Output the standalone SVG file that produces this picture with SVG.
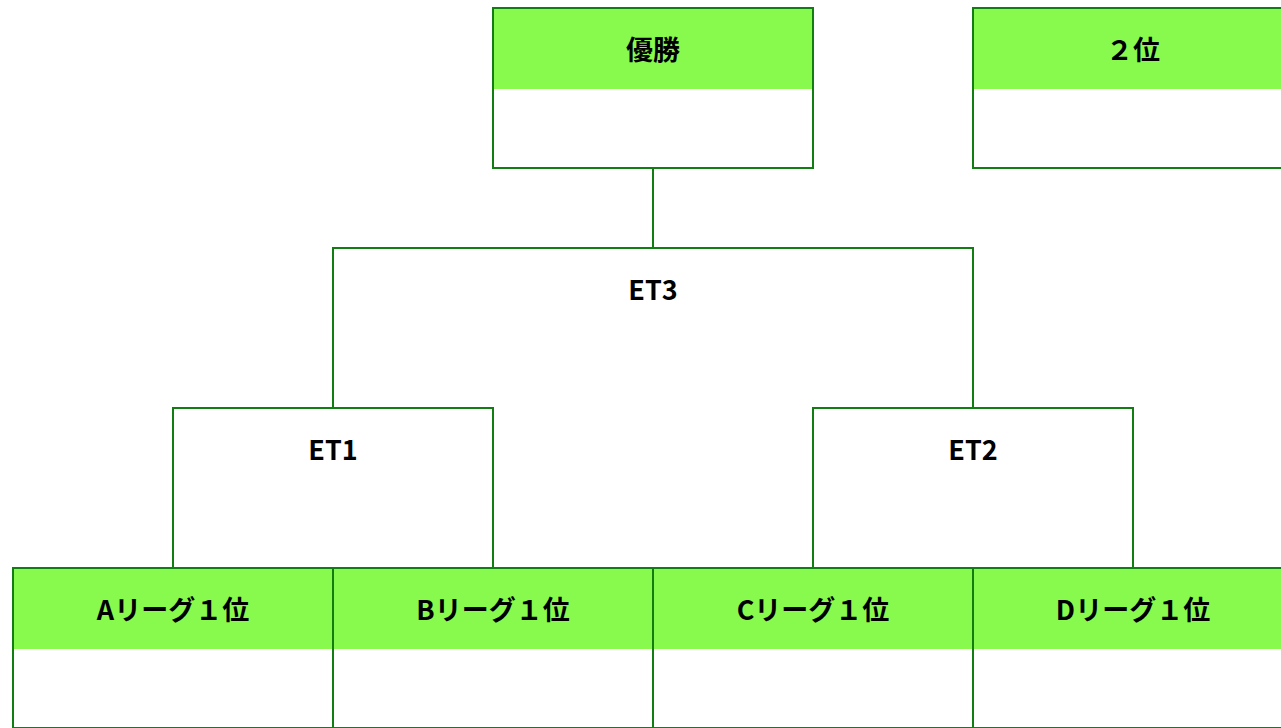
<svg xmlns="http://www.w3.org/2000/svg" width="1281" height="728" viewBox="0 0 1281 728">
<style>
.box{fill:#ffffff;stroke:#127d12;stroke-width:2}
.hd{fill:#88fa4e;stroke:none}
.ln{fill:none;stroke:#127d12;stroke-width:2}
text{font-family:"Noto Sans CJK JP","Noto Sans",sans-serif;font-weight:bold;font-size:27px;fill:#000;text-anchor:middle}
</style>
<rect x="0" y="0" width="1281" height="728" fill="#ffffff"/>
<g id="connectors">
<path class="ln" d="M653 168V248"/>
<path class="ln" d="M333 408V248H973V408"/>
<path class="ln" d="M173 568V408H493V568"/>
<path class="ln" d="M813 568V408H1133V568"/>
</g>
<g id="et3"><text x="653" y="300">ET3</text></g>
<g id="et1"><text x="333" y="460">ET1</text></g>
<g id="et2"><text x="973" y="460">ET2</text></g>
<g id="winner">
<rect class="box" x="493" y="8" width="320" height="160"/>
<rect class="hd" x="494" y="9" width="318" height="80"/>
<text x="653" y="60">優勝</text>
</g>
<g id="second">
<rect class="box" x="973" y="8" width="320" height="160"/>
<rect class="hd" x="974" y="9" width="318" height="80"/>
<text x="1133" y="60">２位</text>
</g>
<g id="a1">
<rect class="box" x="13" y="568" width="320" height="160"/>
<rect class="hd" x="14" y="569" width="318" height="80"/>
<text x="173" y="620">Aリーグ１位</text>
</g>
<g id="b1">
<rect class="box" x="333" y="568" width="320" height="160"/>
<rect class="hd" x="334" y="569" width="318" height="80"/>
<text x="493" y="620">Bリーグ１位</text>
</g>
<g id="c1">
<rect class="box" x="653" y="568" width="320" height="160"/>
<rect class="hd" x="654" y="569" width="318" height="80"/>
<text x="813" y="620">Cリーグ１位</text>
</g>
<g id="d1">
<rect class="box" x="973" y="568" width="320" height="160"/>
<rect class="hd" x="974" y="569" width="318" height="80"/>
<text x="1133" y="620">Dリーグ１位</text>
</g>
</svg>
